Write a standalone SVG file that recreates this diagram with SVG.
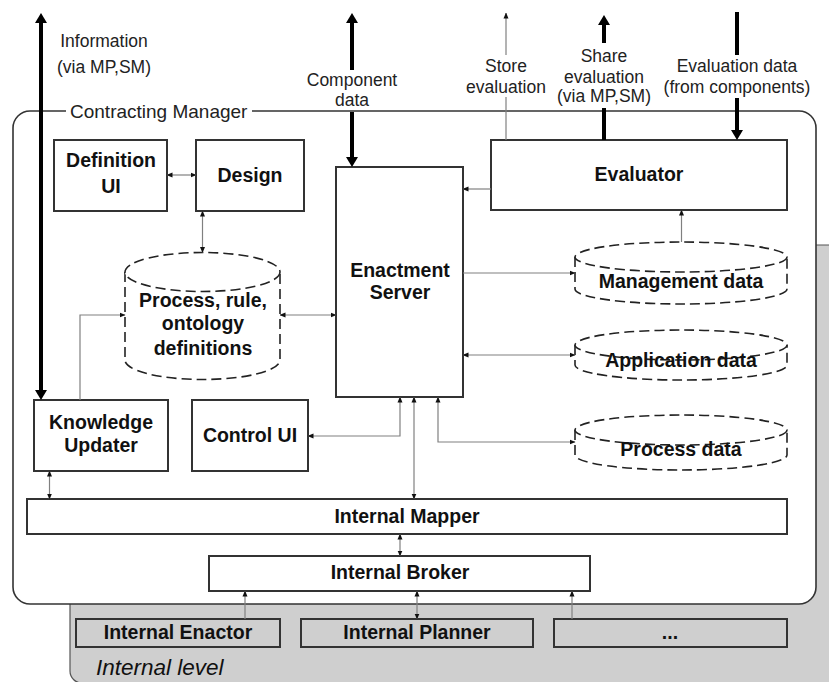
<svg xmlns="http://www.w3.org/2000/svg" width="829" height="682" viewBox="0 0 829 682">
<defs>
<style>
.box{fill:#fff;stroke:#333;stroke-width:2}
.gbox{fill:#cfcfcf;stroke:#333;stroke-width:2}
.cyl{fill:#fff;stroke:#222;stroke-width:1.6;stroke-dasharray:10 5}
.b{font-family:"Liberation Sans",Arial,sans-serif;font-weight:bold;font-size:19.5px;fill:#111;text-anchor:middle}
.l{font-family:"Liberation Sans",Arial,sans-serif;font-size:17.5px;fill:#222;text-anchor:middle}
.thin{fill:none;stroke:#808080;stroke-width:1.2}
.thick{fill:none;stroke:#000;stroke-width:4}
</style>
<marker id="a" viewBox="0 0 6 6" markerWidth="6" markerHeight="6" refX="5.5" refY="3" orient="auto-start-reverse" markerUnits="userSpaceOnUse">
<path d="M0,0.5 L6,3 L0,5.5 z" fill="#111"/>
</marker>
<marker id="A" viewBox="0 0 10 12" markerWidth="10" markerHeight="12" refX="1" refY="6" orient="auto-start-reverse" markerUnits="userSpaceOnUse">
<path d="M0,0 L10,6 L0,12 z" fill="#000"/>
</marker>
</defs>

<g id="internal-level">
<rect x="70" y="245" width="800" height="438" rx="12" fill="#cfcfcf" stroke="#555" stroke-width="1.2"/>
<text x="96" y="675" font-family="'Liberation Sans',Arial,sans-serif" font-style="italic" font-size="22.5" fill="#111">Internal level</text>
</g>

<g id="contracting-manager">
<rect x="13" y="111" width="803" height="493" rx="17" fill="#fff" stroke="#333" stroke-width="1.6"/>
<rect x="66" y="103" width="186" height="18" fill="#fff"/>
<text x="70" y="118" font-family="'Liberation Sans',Arial,sans-serif" font-size="19" fill="#222">Contracting Manager</text>
</g>

<g id="definition-ui"><rect class="box" x="54" y="140" width="113" height="71"/><text class="b" x="111" y="167">Definition</text><text class="b" x="111" y="193">UI</text></g>
<g id="design"><rect class="box" x="196" y="140" width="108" height="71"/><text class="b" x="250" y="182">Design</text></g>
<g id="enactment-server"><rect class="box" x="336" y="167" width="127" height="230"/><text class="b" x="400" y="277">Enactment</text><text class="b" x="400" y="299">Server</text></g>
<g id="evaluator"><rect class="box" x="491" y="140" width="296" height="70"/><text class="b" x="639" y="181">Evaluator</text></g>
<g id="knowledge-updater"><rect class="box" x="34" y="400" width="134" height="71"/><text class="b" x="101" y="429">Knowledge</text><text class="b" x="101" y="452">Updater</text></g>
<g id="control-ui"><rect class="box" x="192" y="400" width="116" height="71"/><text class="b" x="250" y="442">Control UI</text></g>
<g id="internal-mapper"><rect class="box" x="27" y="499" width="760" height="35"/><text class="b" x="407" y="523">Internal Mapper</text></g>
<g id="internal-broker"><rect class="box" x="209" y="556" width="381" height="35"/><text class="b" x="400" y="579">Internal Broker</text></g>
<g id="internal-enactor"><rect class="gbox" x="76" y="619" width="204" height="28"/><text class="b" x="178" y="639">Internal Enactor</text></g>
<g id="internal-planner"><rect class="gbox" x="301" y="619" width="232" height="28"/><text class="b" x="417" y="639">Internal Planner</text></g>
<g id="other-internal"><rect class="gbox" x="554" y="619" width="233" height="28"/><text class="b" x="670" y="639">...</text></g>

<g id="process-definitions">
<path class="cyl" d="M125,272 V360 A77.5,19.5 0 0 0 280,360 V272"/>
<ellipse class="cyl" cx="202.5" cy="272" rx="77.5" ry="19.5"/>
<text class="b" x="203" y="307">Process, rule,</text><text class="b" x="203" y="330">ontology</text><text class="b" x="203" y="355">definitions</text>
</g>
<g id="management-data">
<path class="cyl" d="M575,257 V289 A106,15 0 0 0 787,289 V257"/>
<ellipse class="cyl" cx="681" cy="257" rx="106" ry="15"/>
<text class="b" x="681" y="288">Management data</text>
</g>
<g id="application-data">
<path class="cyl" d="M575,345 V365 A106,15 0 0 0 787,365 V345"/>
<ellipse class="cyl" cx="681" cy="345" rx="106" ry="15"/>
<text class="b" x="681" y="367">Application data</text>
</g>
<g id="process-data">
<path class="cyl" d="M575,430 V455 A106,15 0 0 0 787,455 V430"/>
<ellipse class="cyl" cx="681" cy="430" rx="106" ry="15"/>
<text class="b" x="681" y="456">Process data</text>
</g>

<g id="external-labels">
<text class="l" x="104" y="47">Information</text>
<text class="l" x="104" y="73">(via MP,SM)</text>
<text class="l" x="352" y="86">Component</text>
<text class="l" x="352" y="106">data</text>
<text class="l" x="506" y="72">Store</text>
<text class="l" x="506" y="93">evaluation</text>
<text class="l" x="604" y="62">Share</text>
<text class="l" x="604" y="83">evaluation</text>
<text class="l" x="604" y="102">(via MP,SM)</text>
<text class="l" x="737" y="72">Evaluation data</text>
<text class="l" x="737" y="93">(from components)</text>
</g>

<g id="connectors">
<path class="thick" d="M41,22 V391" marker-start="url(#A)" marker-end="url(#A)"/>
<path class="thick" d="M352,22 V70" marker-start="url(#A)"/>
<path class="thick" d="M352,112 V158" marker-end="url(#A)"/>
<path class="thick" d="M604,24 V43" marker-start="url(#A)"/>
<path class="thick" d="M604,108 V140"/>
<path class="thick" d="M737,12 V55"/>
<path class="thick" d="M737,98 V131" marker-end="url(#A)"/>
<path class="thin" d="M506,55 V13" marker-end="url(#a)"/>
<path class="thin" d="M506,97 V140"/>
<path class="thin" d="M167,175 H196" marker-start="url(#a)" marker-end="url(#a)"/>
<path class="thin" d="M202.5,211 V252.5" marker-start="url(#a)" marker-end="url(#a)"/>
<path class="thin" d="M280,315 H336" marker-start="url(#a)" marker-end="url(#a)"/>
<path class="thin" d="M80,400 V315 H125" marker-end="url(#a)"/>
<path class="thin" d="M491,189 H463" marker-end="url(#a)"/>
<path class="thin" d="M681.5,242 V210" marker-end="url(#a)"/>
<path class="thin" d="M463,273 H575" marker-end="url(#a)"/>
<path class="thin" d="M463,355 H575" marker-start="url(#a)" marker-end="url(#a)"/>
<path class="thin" d="M438,397 V442 H575" marker-start="url(#a)" marker-end="url(#a)"/>
<path class="thin" d="M400,397 V436 H308" marker-start="url(#a)" marker-end="url(#a)"/>
<path class="thin" d="M414,397 V499" marker-start="url(#a)" marker-end="url(#a)"/>
<path class="thin" d="M49.5,471 V499" marker-start="url(#a)" marker-end="url(#a)"/>
<path class="thin" d="M400,534 V556" marker-start="url(#a)" marker-end="url(#a)"/>
<path class="thin" d="M245,619 V591" marker-end="url(#a)"/>
<path class="thin" d="M417,591 V619" marker-start="url(#a)" marker-end="url(#a)"/>
<path class="thin" d="M572,619 V591" marker-end="url(#a)"/>
</g>
</svg>
